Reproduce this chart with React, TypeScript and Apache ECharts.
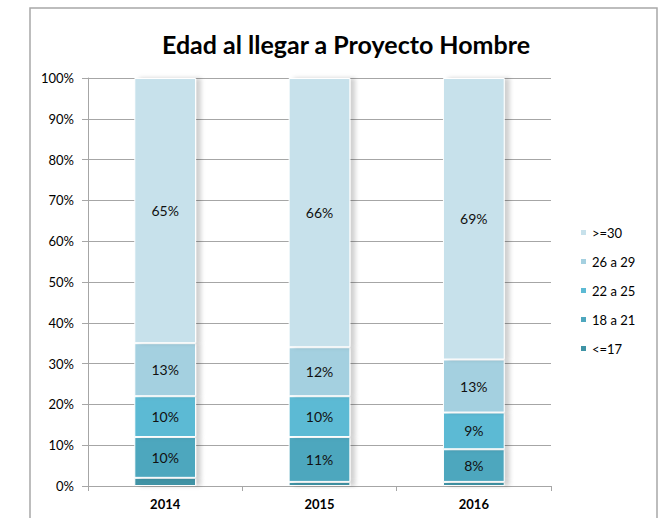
import React, { useEffect, useRef } from "react";
import * as echarts from "echarts";

const categories = ["2014", "2015", "2016"];
const seriesNames = ["<=17", "18 a 21", "22 a 25", "26 a 29", ">=30"];
const le17 = [2, 1, 1];
const s18to21 = [10, 11, 8];
const s22to25 = [10, 10, 9];
const s26to29 = [13, 12, 13];
const ge30 = [65, 66, 69];
const yTicks = [0, 10, 20, 30, 40, 50, 60, 70, 80, 90, 100];
const legendOrder = [">=30", "26 a 29", "22 a 25", "18 a 21", "<=17"];

const colors = ["#3f93a5", "#4ea7be", "#5cbad4", "#a4d0e0", "#c7e1eb"];
const seriesData = [le17, s18to21, s22to25, s26to29, ge30];

export default function App() {
  const ref = useRef<HTMLDivElement>(null);
  useEffect(() => {
    document.body.style.margin = "0";
    const chart = echarts.init(ref.current!, null, { renderer: "svg" });
    const font = "Lato, 'Open Sans', sans-serif";
    chart.setOption({
      animation: false,
      backgroundColor: "#ffffff",
      textStyle: { fontFamily: font },
      title: {
        text: "Edad al llegar a Proyecto Hombre",
        left: 341,
        textAlign: "center",
        top: 26,
        textStyle: { fontFamily: font, fontSize: 25, fontWeight: "bold", color: "#000" },
      },
      graphic: [
        {
          type: "rect",
          shape: { x: 30, y: 8, width: 627, height: 540 },
          style: { fill: "none", stroke: "#a8a8a8", lineWidth: 1.5 },
          silent: true,
        },
      ],
      legend: {
        orient: "vertical",
        left: 574,
        top: 221,
        itemWidth: 7,
        itemHeight: 7,
        itemGap: 16,
        icon: "rect",
        data: legendOrder,
        textStyle: { fontFamily: font, fontSize: 13, color: "#000" },
      },
      grid: { left: 88, right: 119, top: 78, bottom: 32 },
      xAxis: {
        type: "category",
        data: categories,
        axisLine: { lineStyle: { color: "#a6a6a6" } },
        axisTick: { show: true, length: 5, lineStyle: { color: "#a6a6a6" } },
        axisLabel: { fontFamily: font, fontSize: 13, fontWeight: "bold", color: "#000", margin: 11 },
      },
      yAxis: {
        type: "value",
        min: 0,
        max: 100,
        interval: 10,
        axisLine: { show: true, lineStyle: { color: "#a6a6a6" } },
        axisTick: { show: true, length: 6, lineStyle: { color: "#a6a6a6" } },
        splitLine: { lineStyle: { color: "#a6a6a6" } },
        axisLabel: {
          fontFamily: font,
          fontSize: 13,
          color: "#000",
          margin: 14,
          formatter: (v: number) => (yTicks.includes(v) ? v + "%" : ""),
        },
      },
      series: seriesNames.map((name, i) => ({
        name,
        type: "bar",
        stack: "total",
        barWidth: "40%",
        data: seriesData[i],
        itemStyle: {
          color: colors[i],
          borderColor: "#ffffff",
          borderWidth: 1,
          shadowColor: "rgba(0,0,0,0.18)",
          shadowBlur: 4,
          shadowOffsetX: 5,
          shadowOffsetY: 0,
        },
        label: {
          show: i > 0,
          position: "inside",
          formatter: (p: any) => p.value + "%",
          fontFamily: font,
          fontSize: 14,
          color: "#111",
        },
      })),
    });
    return () => chart.dispose();
  }, []);
  return (
    <div
      ref={ref}
      style={{ position: "absolute", left: 0, top: 0, width: 670, height: 518 }}
    />
  );
}
